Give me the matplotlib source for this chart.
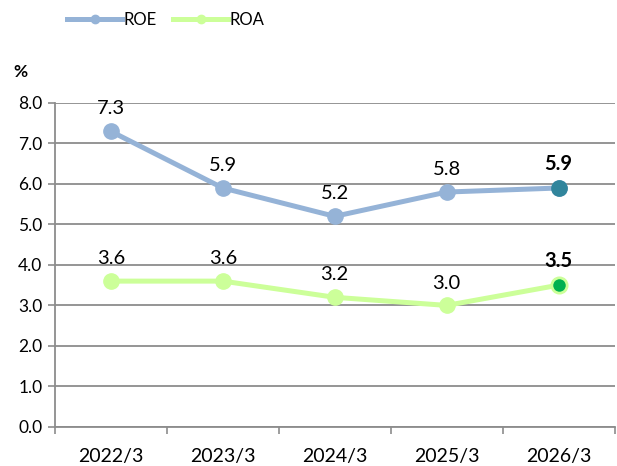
import matplotlib
matplotlib.use('Agg')
import matplotlib.pyplot as plt
from matplotlib.lines import Line2D

# data
years = ['2022/3', '2023/3', '2024/3', '2025/3', '2026/3']
roe = [7.3, 5.9, 5.2, 5.8, 5.9]
roa = [3.6, 3.6, 3.2, 3.0, 3.5]

plt.rcParams['font.family'] = ['Lato', 'DejaVu Sans']

ROE_COL = '#95B3D7'
ROA_COL = '#CCFF99'
GRID = '#8C8C8C'

fig = plt.figure(figsize=(6.17, 4.66), dpi=100)
ax = fig.add_axes([0.089, 0.084, 0.907, 0.695])

x = list(range(len(years)))
ax.plot(x, roe, color=ROE_COL, lw=3.6, marker='o', ms=11, mec=ROE_COL, mfc=ROE_COL, zorder=3)
ax.plot(x, roa, color=ROA_COL, lw=3.6, marker='o', ms=11, mec=ROA_COL, mfc=ROA_COL, zorder=3)
# last point highlighted
ax.plot(x[-1], roe[-1], 'o', ms=11, color='#31859C', mec='#31859C', zorder=4)
ax.plot(x[-1], roa[-1], 'o', ms=11, color='#00B050', mec=ROA_COL, mew=2, zorder=4)

for i in x:
    bold = 'bold' if i == x[-1] else 'normal'
    ax.annotate(f'{roe[i]:.1f}', (i, roe[i]), xytext=(0, 10), textcoords='offset points',
                ha='center', va='bottom', fontsize=14.5, fontweight=bold)
    ax.annotate(f'{roa[i]:.1f}', (i, roa[i]), xytext=(0, 10), textcoords='offset points',
                ha='center', va='bottom', fontsize=14.5, fontweight=bold)

ax.set_xlim(-0.5, len(years) - 0.5)
ax.set_ylim(0, 8)
ax.set_yticks([i * 1.0 for i in range(9)])
ax.set_yticklabels([f'{i:.1f}' for i in range(9)], fontsize=12.5)
ax.set_xticks(x)
ax.set_xticklabels(years, fontsize=14)
ax.tick_params(axis='x', length=0, pad=15)
ax.set_xticks([i - 0.5 for i in range(len(years) + 1)], minor=True)
ax.tick_params(axis='x', which='minor', length=5, color=GRID, width=1.2)
ax.tick_params(axis='y', length=5, color=GRID, width=1.2, pad=4)
ax.yaxis.grid(True, color=GRID, lw=1.3)
ax.set_axisbelow(True)
for s in ['top', 'right']:
    ax.spines[s].set_visible(False)
for s in ['left', 'bottom']:
    ax.spines[s].set_color(GRID)
    ax.spines[s].set_linewidth(1.3)

fig.text(0.022, 0.834, '%', fontsize=12.5, fontweight='bold')

handles = [Line2D([], [], color=ROE_COL, lw=3.6, marker='o', ms=6),
           Line2D([], [], color=ROA_COL, lw=3.6, marker='o', ms=6)]
fig.legend(handles, ['ROE', 'ROA'], loc='center left', bbox_to_anchor=(0.085, 0.958),
           ncol=2, frameon=False, fontsize=12, handlelength=3.3, columnspacing=1.0,
           handletextpad=0.05)

plt.savefig('out.png', dpi=100)
